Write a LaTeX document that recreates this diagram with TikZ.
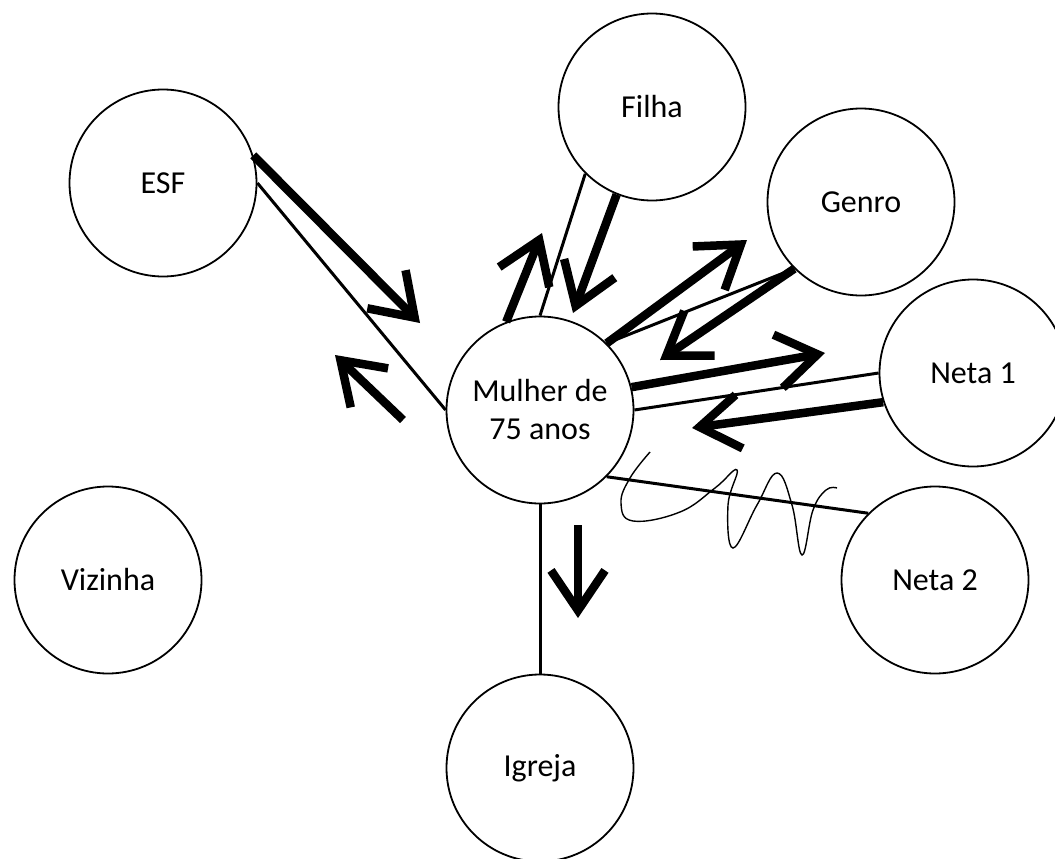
\documentclass[tikz,border=0pt]{standalone}
\usepackage{fontspec}
\setmainfont{Carlito}
\usetikzlibrary{arrows.meta}

\begin{document}
\begin{tikzpicture}[x=1pt,y=-1pt,
    pessoa/.style={draw,circle,line width=1.8pt,minimum size=187pt,inner sep=0pt,%
      align=center,font=\fontsize{32}{38}\selectfont},
    vinculo/.style={line width=3pt},
    fluxo/.style={line width=8.5pt,-{Straight Barb[length=40pt,width=54pt]}}]
      \useasboundingbox (0,0) rectangle (1055,859) ;
      % pessoas da rede
      \node[pessoa] (M) at (540,410) {Mulher de\\75 anos} ;
      \node[pessoa] (E) at (163,183) {ESF} ;
      \node[pessoa] (F) at (652,107) {Filha} ;
      \node[pessoa] (G) at (861,202) {Genro} ;
      \node[pessoa] (N1) at (973,373) {Neta 1} ;
      \node[pessoa] (N2) at (935,580) {Neta 2} ;
      \node[pessoa] (V) at (108,580) {Vizinha} ;
      \node[pessoa] (I) at (540,768) {Igreja} ;
      % vinculos
      \draw[vinculo] (E.east)--(M.west) ;
      \draw[vinculo] (F.south west)--(M.north) ;
      \draw[vinculo] (G.south west)--(M.north east) ;
      \draw[vinculo] (N1.west)--(M.east) ;
      \draw[vinculo] (M.south east)--(N2.north west) ;
      \draw[vinculo] (M.south)--(I.north) ;
      % vinculo conflituoso
      \draw[line width=1.4pt] plot[smooth,tension=0.7] coordinates {(650,452) (630,478)
        (621,503) (633,521) (680,512) (715,488) (737,470) (728,505) (733,548) (757,505)
        (777,473) (792,505) (802,555) (813,510) (826,490) (837,488)} ;
      % fluxos
      \draw[fluxo] (E.17)--(420,323) ;
      \draw[fluxo] (403,420)--(335,355) ;
      \draw[fluxo] (M.111)--(542,233) ;
      \draw[fluxo] (F.248)--(573,313) ;
      \draw[fluxo] (M.north east)--(747,240) ;
      \draw[fluxo] (G.south west)--(660,360) ;
      \draw[fluxo] (M.14)--(825,353) ;
      \draw[fluxo] (N1.198)--(692,428) ;
      \draw[fluxo] (578,525)--(578,618) ;
    \end{tikzpicture}
\end{document}
